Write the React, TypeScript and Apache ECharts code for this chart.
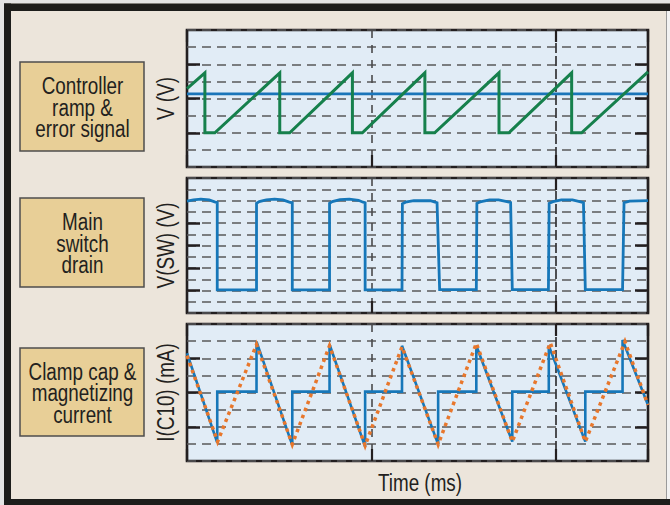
import React, { useEffect, useRef } from "react";
import * as echarts from "echarts";

const boxLabels = ["Controller\nramp &\nerror signal", "Main\nswitch\ndrain", "Clamp cap &\nmagnetizing\ncurrent"];
const yAxisNames = ["V (V)", "V(SW) (V)", "I(C10) (mA)"];
const xAxisName = "Time (ms)";

const xMin = 0;
const xMax = 25;
const xInterval = 10;
const xMajorInterval = 20;
const yMaxes = [8, 12, 8];
const yTicks = [[2, 4, 6], [2, 4, 6, 8], [2, 4, 6]];

// Panel 1: controller ramp (green) and error signal (blue)
const rampX = [0, 0.97, 0.97, 1.51, 5.03, 5.03, 5.57, 8.97, 8.97, 9.51, 12.9, 12.9, 13.43, 16.92, 16.92, 17.46, 20.86, 20.86, 21.4, 25];
const rampY = [4.58, 5.5, 2.0, 2.0, 5.5, 2.0, 2.0, 5.5, 2.0, 2.0, 5.5, 2.0, 2.0, 5.5, 2.0, 2.0, 5.5, 2.0, 2.0, 5.55];
const errorX = [0, 25];
const errorY = [4.27, 4.27];

// Panel 2: main switch drain voltage
const switchX = [
  0, 0.35, 0.75, 1.2, 1.5, 1.64, 1.64,
  3.77, 3.77, 3.92, 4.3, 4.75, 5.2, 5.55, 5.71, 5.71,
  7.73, 7.73, 7.88, 8.3, 8.8, 9.3, 9.55, 9.66, 9.66,
  11.66, 11.68, 11.85, 12.3, 13.2, 13.45, 13.56, 13.7,
  15.69, 15.72, 15.9, 16.4, 16.9, 17.35, 17.55, 17.64,
  19.6, 19.64, 19.85, 20.3, 20.9, 21.35, 21.5, 21.6,
  23.62, 23.7, 24.0, 25,
];
const switchY = [
  9.95, 10.05, 10.12, 10.05, 9.88, 9.82, 2.05,
  2.05, 9.75, 9.9, 10.05, 10.13, 10.05, 9.85, 9.8, 2.05,
  2.05, 9.75, 9.9, 10.08, 10.12, 10.02, 9.85, 9.8, 2.05,
  2.05, 9.7, 9.85, 9.98, 9.98, 9.85, 9.8, 2.08,
  2.08, 9.75, 9.88, 10.05, 10.05, 9.9, 9.82, 2.08,
  2.08, 9.75, 9.9, 10.05, 10.05, 9.88, 9.8, 2.08,
  2.08, 9.8, 9.95, 9.98,
];

// Panel 3: clamp cap current (blue) and magnetizing current (orange dotted)
const clampX = [0, 1.64, 1.64, 3.77, 3.77, 5.71, 5.71, 7.73, 7.73, 9.66, 9.66, 11.66, 11.66, 13.62, 13.62, 15.69, 15.69, 17.64, 17.64, 19.62, 19.62, 21.6, 21.6, 23.62, 23.62, 25];
const clampY = [6.29, 1.07, 4.05, 4.05, 6.97, 0.93, 4.05, 4.05, 6.8, 0.84, 4.05, 4.05, 6.73, 0.97, 4.05, 4.05, 6.73, 1.13, 4.05, 4.05, 6.73, 1.13, 4.05, 4.05, 7.07, 3.27];
const magX = [0, 1.66, 3.77, 5.71, 7.73, 9.66, 11.66, 13.62, 15.69, 17.64, 19.7, 21.6, 23.75, 25];
const magY = [6.15, 1.13, 6.8, 0.97, 6.73, 0.9, 6.67, 0.97, 6.87, 1.13, 6.9, 1.13, 6.97, 3.27];

const zip = (xs: number[], ys: number[]) => xs.map((x, i) => [x, ys[i]]);

const FONT = "'Liberation Sans', Arial, sans-serif";
const NARROW = 0.82;
const INK = "#231f20";
const CLEAR = "rgba(0,0,0,0)";

export default function App() {
  const ref = useRef<HTMLDivElement>(null);
  useEffect(() => {
    document.body.style.margin = "0";
    if (!ref.current) return;
    const chart = echarts.init(ref.current, null, { renderer: "svg" });
    const grids = [
      { left: 187, top: 30, width: 461, height: 137 },
      { left: 187, top: 178, width: 461, height: 135 },
      { left: 187, top: 324, width: 461, height: 137 },
    ];
    const boxes = [
      { y: 62, h: 89 },
      { y: 198, h: 89 },
      { y: 348, h: 88 },
    ];
    const xAxes: any[] = [];
    const yAxes: any[] = [];
    grids.forEach((g, i) => {
      xAxes.push({
        type: "value", gridIndex: i, min: xMin, max: xMax, interval: xInterval, position: "bottom",
        axisLine: { show: false, onZero: false }, axisLabel: { show: false },
        axisTick: { show: true, inside: true, length: 12, lineStyle: { color: INK, width: 2.2 } },
        splitLine: { show: true, lineStyle: { color: [CLEAR, "#4a4a4c", CLEAR], type: [8, 7], width: 1.6 } },
      });
      xAxes.push({
        type: "value", gridIndex: i, min: xMin, max: xMax, interval: xMajorInterval, position: "top",
        axisLine: { show: false, onZero: false }, axisLabel: { show: false },
        axisTick: { show: true, inside: true, length: 12, lineStyle: { color: INK, width: 2.2 } },
        splitLine: { show: true, lineStyle: { color: [CLEAR, "#333335"], type: [10, 3], width: 1.7 } },
      });
      // grid-line axis (series attach here)
      yAxes.push({
        type: "value", gridIndex: i, min: 0, max: yMaxes[i], interval: 1, position: "left",
        axisLine: { show: false, onZero: false }, axisLabel: { show: false }, axisTick: { show: false },
        splitLine: { show: true, lineStyle: { color: "#58585a", type: [9, 6], width: 1.6 } },
      });
      ["left", "right"].forEach((pos) => {
        yAxes.push({
          type: "value", gridIndex: i, min: 0, max: yMaxes[i], interval: 1, position: pos,
          axisLine: { show: false, onZero: false }, axisLabel: { show: false },
          axisTick: { show: true, inside: true, length: 13, customValues: yTicks[i], lineStyle: { color: INK, width: 2.5 } },
          splitLine: { show: false },
        });
      });
    });
    const line = (name: string, gi: number, data: number[][], color: string, width: number, type: any = "solid") => ({
      name, type: "line", xAxisIndex: gi * 2, yAxisIndex: gi * 3, data, symbol: "none",
      lineStyle: { color, width, type, cap: "butt", join: "miter" }, z: 3,
    });
    const graphic: any[] = [
      { type: "rect", shape: { x: 0, y: 0, width: 670, height: 3.5 }, style: { fill: "#e4e4e4" }, silent: true },
      { type: "rect", shape: { x: 0, y: 0, width: 4, height: 505 }, style: { fill: "#e4e4e4" }, silent: true },
      { type: "rect", shape: { x: 4, y: 3.5, width: 666, height: 7.5 }, style: { fill: "#1d1d1b" }, silent: true },
      { type: "rect", shape: { x: 4, y: 3.5, width: 7, height: 501.5 }, style: { fill: "#1d1d1b" }, silent: true },
      { type: "rect", shape: { x: 4, y: 499, width: 666, height: 6 }, style: { fill: "#1d1d1b" }, silent: true },
      { type: "rect", shape: { x: 666, y: 11, width: 4, height: 488 }, style: { fill: "#f2f2f2" }, silent: true },
      { type: "line", shape: { x1: 666.5, y1: 11, x2: 666.5, y2: 499 }, style: { stroke: "#9a9a9a", lineWidth: 1 }, silent: true },
    ];
    boxes.forEach((b, i) => {
      graphic.push({
        type: "rect", shape: { x: 20, y: b.y, width: 124, height: b.h },
        style: { fill: "#e8cf97", stroke: "#4d4d4d", lineWidth: 1.5 }, silent: true,
      });
      graphic.push({
        type: "text", x: 82.5, y: b.y + b.h / 2 + 1, scaleX: NARROW,
        style: { text: boxLabels[i], fill: INK, font: `23px ${FONT}`, align: "center", verticalAlign: "middle", lineHeight: 21.5 },
        silent: true,
      });
      const g = grids[i];
      graphic.push({
        type: "text", x: 166, y: g.top + g.height / 2, rotation: Math.PI / 2, scaleX: NARROW,
        style: { text: yAxisNames[i], fill: INK, font: `23px ${FONT}`, align: "center", verticalAlign: "middle" },
        silent: true,
      });
    });
    graphic.push({
      type: "text", x: 420, y: 483, scaleX: NARROW,
      style: { text: xAxisName, fill: INK, font: `23px ${FONT}`, align: "center", verticalAlign: "middle" },
      silent: true,
    });
    chart.setOption({
      animation: false,
      backgroundColor: "#ece5db",
      grid: grids.map((g) => ({ ...g, show: true, backgroundColor: "#e1ecf6", borderColor: INK, borderWidth: 2.6 })),
      xAxis: xAxes,
      yAxis: yAxes,
      graphic,
      series: [
        line("Error signal", 0, zip(errorX, errorY), "#1a75b9", 2.6),
        line("Controller ramp", 0, zip(rampX, rampY), "#16804c", 3),
        line("Main switch drain", 1, zip(switchX, switchY), "#1677b9", 2.8),
        line("Clamp cap current", 2, zip(clampX, clampY), "#1677b9", 2.6),
        line("Magnetizing current", 2, zip(magX, magY), "#e8772c", 3.5, [3.5, 4]),
      ],
    });
    return () => chart.dispose();
  }, []);
  return <div ref={ref} style={{ width: 670, height: 505 }} />;
}
